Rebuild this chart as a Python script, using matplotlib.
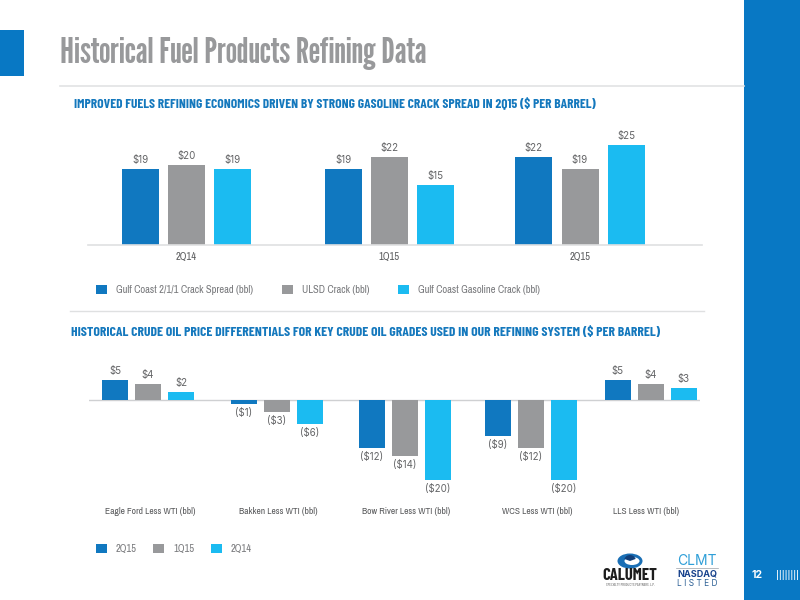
import matplotlib
matplotlib.use("Agg")
import matplotlib.pyplot as plt
from matplotlib.patches import Patch, Rectangle, Ellipse, Wedge

# donnees
periods = ["2Q14", "1Q15", "2Q15"]
gulf_crack = [19, 19, 22]
ulsd_crack = [20, 22, 19]
gasoline_crack = [19, 15, 25]
crack_names = ["Gulf Coast 2/1/1 Crack Spread (bbl)", "ULSD Crack (bbl)", "Gulf Coast Gasoline Crack (bbl)"]

grades = ["Eagle Ford Less WTI (bbl)", "Bakken Less WTI (bbl)", "Bow River Less WTI (bbl)",
          "WCS Less WTI (bbl)", "LLS Less WTI (bbl)"]
diff_2q15 = [5, -1, -12, -9, 5]
diff_1q15 = [4, -3, -14, -12, 4]
diff_2q14 = [2, -6, -20, -20, 3]
diff_names = ["2Q15", "1Q15", "2Q14"]

DARK = "#1078c0"
GREY = "#98999b"
LIGHT = "#1bbbf1"
SIDE = "#0878c4"
TALL = ["League Gothic", "Antonio", "Pathway Gothic One", "Barlow Condensed", "Liberation Sans"]
NARROW = ["Barlow Condensed", "Liberation Sans"]
SMALL = ["Archivo Narrow", "Barlow Condensed", "Liberation Sans"]
WIDE = ["Inter", "DejaVu Sans"]
W, H = 800, 600


def box(x0, y0, x1, y1):
    # coordonnees en pixels, origine en haut a gauche
    return [x0 / W, 1 - y1 / H, (x1 - x0) / W, (y1 - y0) / H]


def money(v):
    return "$%d" % v if v >= 0 else "($%d)" % -v


def draw_bars(ax, centers, step, width, series, colors):
    for k, (vals, col) in enumerate(zip(series, colors)):
        xs = [c + (k - 1) * step for c in centers]
        bars = ax.bar(xs, vals, width=width, color=col, linewidth=0)
        ax.bar_label(bars, labels=[money(v) for v in vals], padding=3,
                     fontsize=7, color="#636466", family=WIDE)
    ax.set_yticks([])
    for s in ["top", "left", "right"]:
        ax.spines[s].set_visible(False)


fig = plt.figure(figsize=(8, 6), dpi=100)

# fond de page en pixels
bg = fig.add_axes([0, 0, 1, 1])
bg.set_xlim(0, W)
bg.set_ylim(H, 0)
bg.axis("off")
bg.add_patch(Rectangle((0, 30), 24, 46, color=SIDE, lw=0))
bg.add_patch(Rectangle((744, 0), 56, 600, color=SIDE, lw=0))
bg.plot([60, 744], [85.5, 85.5], color="#e2e3e4", lw=1.2)
bg.plot([70, 704], [310.5, 310.5], color="#dfe0e1", lw=1)
bg.text(60, 54, "Historical Fuel Products Refining Data", fontsize=26.4, fontweight="bold",
        color="#98999b", family=TALL, va="center", ha="left")
bg.text(74, 104, "IMPROVED FUELS REFINING ECONOMICS DRIVEN BY STRONG GASOLINE CRACK SPREAD IN 2Q15 ($ PER BARREL)",
        fontsize=9.7, fontweight="bold", color="#1478bd", family=NARROW, va="center", ha="left")
bg.text(71, 332, "HISTORICAL CRUDE OIL PRICE DIFFERENTIALS FOR KEY CRUDE OIL GRADES USED IN OUR REFINING SYSTEM ($ PER BARREL)",
        fontsize=9.9, fontweight="bold", color="#1478bd", family=NARROW, va="center", ha="left")

# numero de page
bg.text(752, 575, "12", fontsize=7.5, fontweight="bold", color="white", family=WIDE, va="center")
bg.text(776, 575, "||||||||", fontsize=8, color="white", family="Liberation Sans", va="center")

# logos
bg.add_patch(Ellipse((630, 561), 25, 15, color="#1a6fb5", lw=0))
bg.add_patch(Ellipse((632, 561), 15, 8, color="white", lw=0))
bg.add_patch(Wedge((630, 561), 6, 200, 340, color="#123f7a", lw=0))
bg.text(630, 575, "CALUMET", fontsize=12, fontweight="bold", color="#1c1c1c",
        family=NARROW, ha="center", va="center")
bg.text(630, 585.5, "SPECIALTY PRODUCTS PARTNERS, L.P.", fontsize=2.8, color="#555555",
        family=NARROW, ha="center", va="center")
bg.text(697, 561, "CLMT", fontsize=10, color="#2f9fd8", family=WIDE, ha="center", va="center")
bg.plot([676, 718], [568, 568], color="#9aa0a6", lw=0.5)
bg.text(697, 574, "NASDAQ", fontsize=6.5, fontweight="bold", color="#17428c", family=WIDE,
        ha="center", va="center")
bg.text(697, 584, "L I S T E D", fontsize=6, color="#2b5f94", family=WIDE, ha="center", va="center")

# graphique du haut
ax1 = fig.add_axes(box(88, 125, 702, 245))
ax1.set_xlim(88, 702)
ax1.set_ylim(0, 30)
ax1.patch.set_alpha(0)
top_centers = [186.5, 389.5, 580]
draw_bars(ax1, top_centers, 46.3, 37, [gulf_crack, ulsd_crack, gasoline_crack], [DARK, GREY, LIGHT])
ax1.spines["bottom"].set_color("#dfe0e1")
ax1.spines["bottom"].set_linewidth(1.2)
ax1.set_xticks(top_centers, periods, family=SMALL, fontsize=7.5, color="#58595b")
ax1.tick_params(axis="x", length=0, pad=5)

# graphique du bas
ax2 = fig.add_axes(box(89, 360, 700, 490))
ax2.set_xlim(89, 700)
ax2.set_ylim(-22.5, 10)
ax2.patch.set_alpha(0)
low_centers = [148, 277, 405, 531, 651]
label_centers = [150, 278, 406, 537, 646]
draw_bars(ax2, low_centers, 33, 26, [diff_2q15, diff_1q15, diff_2q14], [DARK, GREY, LIGHT])
ax2.spines["bottom"].set_visible(False)
ax2.axhline(0, color="#cfd0d2", lw=1, zorder=0)
ax2.set_xticks(label_centers, grades, family=SMALL, fontsize=6.8, color="#58595b")
ax2.tick_params(axis="x", length=0, pad=12)

# legendes
handles1 = [Patch(color=c, lw=0) for c in [DARK, GREY, LIGHT]]
leg1 = fig.legend(handles1, crack_names, loc="center left", bbox_to_anchor=(96 / W, 1 - 290 / H), ncols=3,
                  frameon=False, handlelength=1.04, handleheight=1.04, handletextpad=0.84,
                  columnspacing=2.75, borderpad=0, borderaxespad=0,
                  prop={"family": SMALL, "size": 7.6})
for t in leg1.get_texts():
    t.set_color("#77787b")
handles2 = [Patch(color=c, lw=0) for c in [DARK, GREY, LIGHT]]
leg2 = fig.legend(handles2, diff_names, loc="center left", bbox_to_anchor=(96 / W, 1 - 549 / H), ncols=3,
                  frameon=False, handlelength=1.05, handleheight=1.05, handletextpad=0.85,
                  columnspacing=1.6, borderpad=0, borderaxespad=0,
                  prop={"family": SMALL, "size": 7.5})
for t in leg2.get_texts():
    t.set_color("#77787b")

fig.savefig("out.png", dpi=100)
